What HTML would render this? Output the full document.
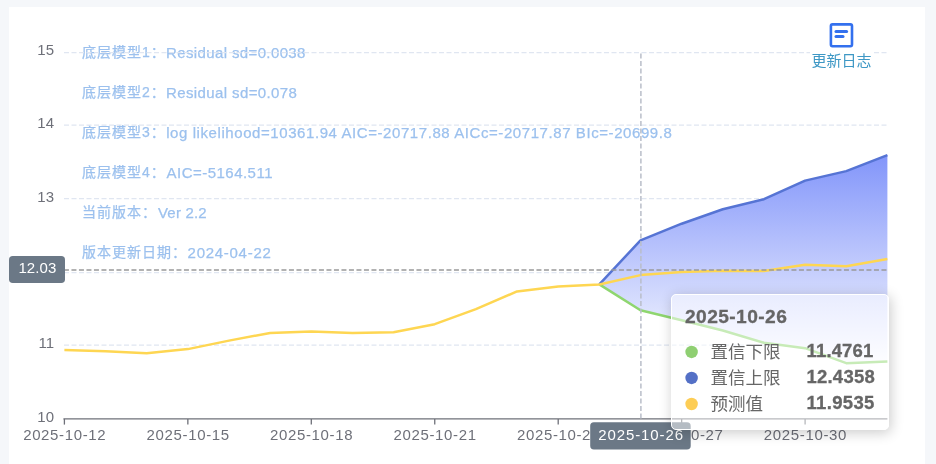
<!DOCTYPE html>
<html><head><meta charset="utf-8"><style>
html,body{margin:0;padding:0;}
body{width:936px;height:464px;overflow:hidden;background:#f5f7fa;position:relative;font-family:"Liberation Sans","Noto Sans CJK SC",sans-serif;}
.card{position:absolute;left:9px;top:7px;width:916px;height:470px;background:#fff;}
svg{position:absolute;left:0;top:0;will-change:transform;}
.g{stroke:#E0E6F1;stroke-width:1.25;stroke-dasharray:5 2.5;}
.ax{stroke:#6E7079;stroke-width:1.3;}
.yl{font-size:15px;fill:#6E7079;text-anchor:end;}
.xl{font-size:15px;fill:#6E7079;}
.info{font-size:15px;fill:#9cc1ee;stroke:#9cc1ee;stroke-width:0.25px;}
.cj{font-size:14px;letter-spacing:1px;}
.tt{position:absolute;left:671.1px;top:294.2px;width:217.7px;height:135.6px;box-sizing:border-box;background:rgba(255,255,255,0.5);border:1.25px solid #fff;border-radius:5px;box-shadow:1.25px 2.5px 12.5px rgba(0,0,0,0.2);}
.tts text{fill:#666;font-size:17.5px;}
.tts text.bd{font-size:18.5px;stroke:#666;stroke-width:0.3px;}
.tts text.hd{font-size:19.2px;}
.tts .bd{font-weight:bold;}
.lbt{font-size:15px;fill:#fff;}
.tb{font-size:15px;fill:#3E98C5;}
</style></head><body>
<div class="card"></div>
<svg width="936" height="464" viewBox="0 0 936 464">
<defs><linearGradient id="ag" x1="0" y1="0" x2="0" y2="1">
<stop offset="0" stop-color="#8295fa"/><stop offset="1" stop-color="#fafbff"/></linearGradient></defs>
<text y="57.7" class="info"><tspan x="82" dy="-0.7" class="cj">底层模型1：</tspan><tspan x="166.0" dy="0.7" textLength="139.4" lengthAdjust="spacing">Residual sd=0.0038</tspan></text>
<text y="97.7" class="info"><tspan x="82" dy="-0.7" class="cj">底层模型2：</tspan><tspan x="166.0" dy="0.7" textLength="130.9" lengthAdjust="spacing">Residual sd=0.078</tspan></text>
<text y="137.7" class="info"><tspan x="82" dy="-0.7" class="cj">底层模型3：</tspan><tspan x="166.2" dy="0.7" textLength="505.6" lengthAdjust="spacing">log likelihood=10361.94 AIC=-20717.88 AICc=-20717.87 BIc=-20699.8</tspan></text>
<text y="177.7" class="info"><tspan x="82" dy="-0.7" class="cj">底层模型4：</tspan><tspan x="166.5" dy="0.7" textLength="106.0" lengthAdjust="spacing">AIC=-5164.511</tspan></text>
<text y="217.7" class="info"><tspan x="82" dy="-0.7" class="cj">当前版本：</tspan><tspan x="158.0" dy="0.7" textLength="48.6" lengthAdjust="spacing">Ver 2.2</tspan></text>
<text y="257.7" class="info"><tspan x="82" dy="-0.7" class="cj">版本更新日期：</tspan><tspan x="187.6" dy="0.7" textLength="83.2" lengthAdjust="spacing">2024-04-22</tspan></text>
<g>
<line x1="64.0" y1="52.5" x2="887.40" y2="52.5" class="g"/>
<line x1="64.0" y1="125.2" x2="887.40" y2="125.2" class="g"/>
<line x1="64.0" y1="198.7" x2="887.40" y2="198.7" class="g"/>
<line x1="64.0" y1="272.5" x2="887.40" y2="272.5" class="g"/>
<line x1="64.0" y1="345.0" x2="887.40" y2="345.0" class="g"/>
</g>
<text x="54" y="55.3" class="yl">15</text>
<text x="54" y="128.0" class="yl">14</text>
<text x="54" y="201.5" class="yl">13</text>
<text x="54" y="347.8" class="yl">11</text>
<text x="54" y="421.7" class="yl">10</text>
<g>
<line x1="63.4" y1="418.9" x2="887.40" y2="418.9" class="ax"/>
<line x1="64.40" y1="418.9" x2="64.40" y2="424.6" class="ax"/>
<line x1="187.85" y1="418.9" x2="187.85" y2="424.6" class="ax"/>
<line x1="311.30" y1="418.9" x2="311.30" y2="424.6" class="ax"/>
<line x1="434.75" y1="418.9" x2="434.75" y2="424.6" class="ax"/>
<line x1="558.20" y1="418.9" x2="558.20" y2="424.6" class="ax"/>
<line x1="681.65" y1="418.9" x2="681.65" y2="424.6" class="ax"/>
<line x1="805.10" y1="418.9" x2="805.10" y2="424.6" class="ax"/>
</g>
<text x="23.15" y="440.2" class="xl" textLength="82.5" lengthAdjust="spacing">2025-10-12</text>
<text x="146.60" y="440.2" class="xl" textLength="82.5" lengthAdjust="spacing">2025-10-15</text>
<text x="270.05" y="440.2" class="xl" textLength="82.5" lengthAdjust="spacing">2025-10-18</text>
<text x="393.50" y="440.2" class="xl" textLength="82.5" lengthAdjust="spacing">2025-10-21</text>
<text x="516.95" y="440.2" class="xl" textLength="82.5" lengthAdjust="spacing">2025-10-24</text>
<text x="640.40" y="440.2" class="xl" textLength="82.5" lengthAdjust="spacing">2025-10-27</text>
<text x="763.85" y="440.2" class="xl" textLength="82.5" lengthAdjust="spacing">2025-10-30</text>
<g>
<polygon points="599.35,284.40 640.50,240.30 681.65,223.70 722.80,209.20 763.95,199.20 805.10,180.60 846.25,171.10 887.40,155.20 887.40,361.40 846.25,363.20 805.10,348.20 763.95,342.70 722.80,330.50 681.65,320.30 640.50,310.20 599.35,284.40" fill="url(#ag)"/>
<polyline points="599.35,284.40 640.50,310.20 681.65,320.30 722.80,330.50 763.95,342.70 805.10,348.20 846.25,363.20 887.40,361.40" fill="none" stroke="#8fd66f" stroke-width="2.5" stroke-linejoin="round"/>
<polyline points="599.35,284.40 640.50,240.30 681.65,223.70 722.80,209.20 763.95,199.20 805.10,180.60 846.25,171.10 887.40,155.20" fill="none" stroke="#5674d4" stroke-width="2.5" stroke-linejoin="round"/>
<polyline points="64.40,349.90 105.55,351.30 146.70,353.30 187.85,349.10 229.00,340.60 270.15,332.90 311.30,331.60 352.45,332.90 393.60,332.20 434.75,324.20 475.90,309.20 517.05,291.40 558.20,286.40 599.35,284.50 640.50,275.10 681.65,272.10 722.80,270.70 763.95,271.10 805.10,264.70 846.25,266.20 887.40,259.10" fill="none" stroke="#fed652" stroke-width="2.5" stroke-linejoin="round"/>
<line x1="640.9" y1="53.6" x2="640.9" y2="418.9" stroke="#B9BEC9" stroke-width="1.5" stroke-dasharray="5 2.5"/>
<line x1="63.95" y1="269.95" x2="887.40" y2="269.95" stroke="#999" stroke-width="1.6" stroke-dasharray="5 2.5"/>
</g>
<g>
<rect x="830.9" y="24.4" width="21.1" height="21.8" rx="1.6" fill="none" stroke="#3370ee" stroke-width="2.6"/>
<line x1="836" y1="31.5" x2="846.6" y2="31.5" stroke="#3370ee" stroke-width="3" stroke-linecap="round"/>
<line x1="836" y1="36.4" x2="843" y2="36.4" stroke="#3370ee" stroke-width="3" stroke-linecap="round"/>
<rect x="810" y="51" width="64" height="19" fill="#fff"/>
</g>
<text x="811.5" y="66" class="tb">更新日志</text>
<g>
<rect x="9" y="256" width="56" height="27" rx="3.75" fill="#6b7886"/>
<rect x="590.2" y="422.2" width="100.5" height="27.4" rx="3.75" fill="#6b7886"/>
</g>
<text x="18.4" y="272.6" class="lbt" textLength="38" lengthAdjust="spacing">12.03</text>
<text x="598.2" y="440.2" class="lbt" textLength="84.8" lengthAdjust="spacing">2025-10-26</text>
</svg>
<div class="tt"></div>
<svg class="tts" width="936" height="464" viewBox="0 0 936 464">
<text x="685" y="323" class="bd hd" textLength="101.8" lengthAdjust="spacing">2025-10-26</text>
<g>
<circle cx="691.6" cy="351.9" r="6.25" fill="#8fcf72"/>
<circle cx="691.6" cy="377.9" r="6.25" fill="#5470c6"/>
<circle cx="691.6" cy="404.0" r="6.25" fill="#fdcd55"/>
</g>
<text x="710.5" y="357.5">置信下限</text>
<text x="710.5" y="383.6">置信上限</text>
<text x="710.5" y="409.7">预测值</text>
<text x="806.5" y="357.2" class="bd" textLength="66.8" lengthAdjust="spacing">11.4761</text>
<text x="806.5" y="383.3" class="bd" textLength="68.2" lengthAdjust="spacing">12.4358</text>
<text x="806.5" y="409.4" class="bd" textLength="67.8" lengthAdjust="spacing">11.9535</text>
</svg>
</body></html>
